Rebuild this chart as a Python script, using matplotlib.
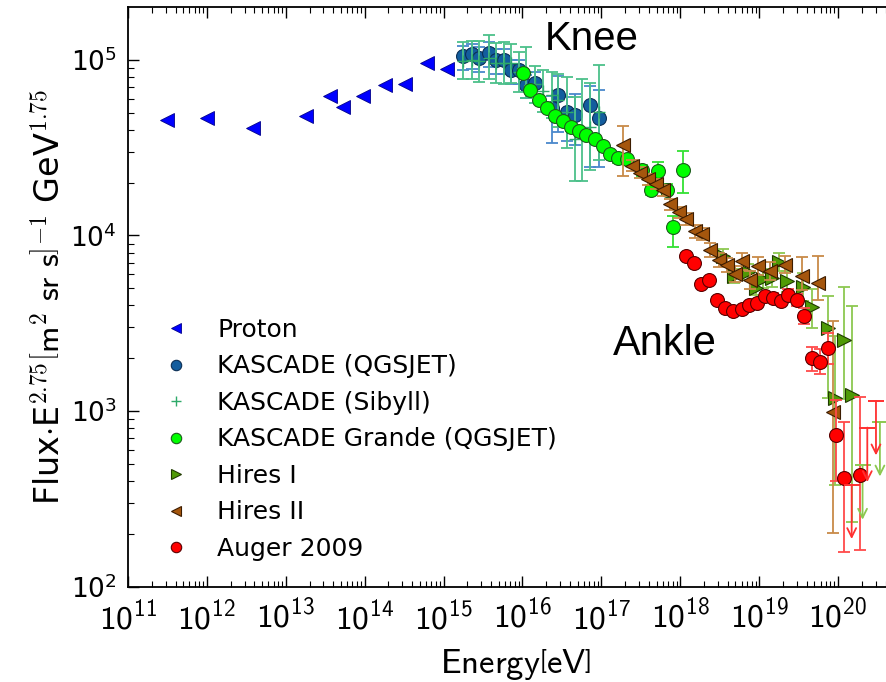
import numpy as np
import matplotlib
matplotlib.use("Agg")
import matplotlib.pyplot as plt
from matplotlib.ticker import LogLocator, NullFormatter, FixedLocator, FixedFormatter

# Sans-serif Computer Modern for the energy axis text
plt.rcParams["mathtext.rm"] = "cmss10"
plt.rcParams["mathtext.sf"] = "cmss10"
plt.rcParams["mathtext.it"] = "cmss10"

# ---------------------------------------------------------------------------
# Data: energies as log10(E / eV), flux as Flux * E^2.75, errors in dex
# ---------------------------------------------------------------------------
proton_loge = [11.49, 12.00, 12.58, 13.26, 13.56, 13.72, 13.98, 14.26, 14.51, 14.79, 15.04]
proton_flux = [4.52e4, 4.66e4, 4.08e4, 4.76e4, 6.2e4, 5.4e4, 6.2e4, 7.2e4, 7.3e4, 9.6e4, 8.9e4]

kq_loge = [15.24, 15.36, 15.45, 15.57, 15.66, 15.76, 15.85, 15.95, 16.05, 16.16,
           16.37, 16.45, 16.56, 16.67, 16.86, 16.97]
kq_logf = [5.02, 5.03, 5.01, 5.04, 5.00, 5.00, 4.94, 4.94, 4.855, 4.87,
           4.726, 4.80, 4.70, 4.685, 4.74, 4.67]
kq_dlo = [0.08, 0.08, 0.08, 0.08, 0.08, 0.08, 0.08, 0.08, 0.07, 0.07,
          0.20, 0.21, 0.16, 0.17, 0.35, 0.28]
kq_dhi = [0.06, 0.06, 0.06, 0.06, 0.06, 0.06, 0.06, 0.06, 0.06, 0.06,
          0.07, 0.11, 0.09, 0.12, 0.11, 0.16]

ks_loge = [15.24, 15.36, 15.45, 15.57, 15.66, 15.76, 15.85, 15.95, 16.05, 16.16,
           16.26, 16.37, 16.45, 16.56, 16.67, 16.76, 16.86, 16.97]
ks_logf = [4.995, 5.00, 4.99, 5.01, 4.98, 4.98, 4.98, 4.93, 4.93, 4.86,
           4.82, 4.80, 4.77, 4.70, 4.55, 4.60, 4.62, 4.70]
ks_dlo = [0.107, 0.107, 0.115, 0.12, 0.115, 0.12, 0.11, 0.115, 0.145, 0.105,
          0.12, 0.13, 0.15, 0.20, 0.24, 0.29, 0.25, 0.27]
ks_dhi = [0.107, 0.107, 0.115, 0.13, 0.115, 0.12, 0.11, 0.115, 0.145, 0.105,
          0.12, 0.13, 0.15, 0.20, 0.24, 0.29, 0.25, 0.27]

kg_loge = [16.01, 16.10, 16.21, 16.31, 16.41, 16.51, 16.62, 16.72, 16.81, 16.92,
           17.02, 17.11, 17.21, 17.32, 17.51, 17.63, 17.72, 17.83, 17.91, 18.03]
kg_logf = [4.926, 4.830, 4.773, 4.726, 4.678, 4.650, 4.615, 4.596, 4.574, 4.551,
           4.511, 4.463, 4.440, 4.434, 4.371, 4.259, 4.367, 4.261, 4.051, 4.375]
kg_dlo = [0.02, 0.02, 0.02, 0.02, 0.02, 0.02, 0.02, 0.02, 0.02, 0.02,
          0.02, 0.02, 0.025, 0.025, 0.03, 0.03, 0.06, 0.03, 0.114, 0.135]
kg_dhi = [0.02, 0.02, 0.02, 0.02, 0.02, 0.02, 0.02, 0.02, 0.02, 0.02,
          0.02, 0.02, 0.025, 0.025, 0.03, 0.03, 0.05, 0.03, 0.058, 0.107]

h1_loge = [18.545, 18.68, 18.862, 18.96, 19.052, 19.159, 19.251, 19.348, 19.555,
           19.665, 19.876, 19.967, 20.071, 20.172]
h1_logf = [3.884, 3.771, 3.793, 3.704, 3.754, 3.758, 3.849, 3.739, 3.709,
           3.593, 3.475, 3.078, 3.407, 3.091]
h1_dlo = [0.04, 0.04, 0.045, 0.045, 0.05, 0.05, 0.05, 0.06, 0.08,
          0.12, 0.40, 0.50, 0.34, 0.72]
h1_dhi = [0.04, 0.04, 0.045, 0.045, 0.05, 0.05, 0.05, 0.06, 0.08,
          0.10, 0.18, 0.35, 0.30, 0.51]
h1_lim_loge = [20.31, 20.53]
h1_lim_logf = [2.693, 2.939]

h2_loge = [17.278, 17.382, 17.483, 17.588, 17.686, 17.785, 17.870, 17.981, 18.076,
           18.186, 18.275, 18.380, 18.488, 18.588, 18.696, 18.788, 18.883, 18.982,
           19.141, 19.333, 19.539, 19.749, 19.932]
h2_logf = [4.516, 4.397, 4.357, 4.320, 4.294, 4.256, 4.177, 4.131, 4.095,
           4.023, 4.009, 3.920, 3.859, 3.830, 3.783, 3.853, 3.747, 3.826,
           3.799, 3.834, 3.770, 3.731, 2.995]
h2_dlo = [0.18, 0.03, 0.03, 0.03, 0.03, 0.03, 0.03, 0.03, 0.035,
          0.035, 0.035, 0.04, 0.04, 0.04, 0.045, 0.05, 0.05, 0.05,
          0.05, 0.05, 0.08, 0.10, 0.69]
h2_dhi = [0.105, 0.03, 0.03, 0.03, 0.03, 0.03, 0.03, 0.03, 0.035,
          0.035, 0.035, 0.04, 0.04, 0.04, 0.045, 0.05, 0.05, 0.05,
          0.05, 0.05, 0.11, 0.15, 0.52]

au_loge = [18.07, 18.17, 18.26, 18.37, 18.47, 18.57, 18.67, 18.78, 18.875, 18.97,
           19.07, 19.17, 19.27, 19.37, 19.475, 19.57, 19.665, 19.77, 19.875, 19.97,
           20.075, 20.28]
au_logf = [3.884, 3.843, 3.726, 3.745, 3.634, 3.587, 3.571, 3.581, 3.602, 3.617,
           3.654, 3.646, 3.630, 3.663, 3.634, 3.541, 3.301, 3.282, 3.358, 2.863,
           2.621, 2.640]
au_dlo = [0.015, 0.015, 0.015, 0.015, 0.015, 0.015, 0.015, 0.015, 0.02, 0.02,
          0.02, 0.025, 0.025, 0.03, 0.035, 0.045, 0.07, 0.07, 0.09, 0.26,
          0.42, 0.43]
au_dhi = [0.015, 0.015, 0.015, 0.015, 0.015, 0.015, 0.015, 0.015, 0.02, 0.02,
          0.02, 0.025, 0.025, 0.03, 0.035, 0.045, 0.063, 0.07, 0.09, 0.20,
          0.32, 0.44]
au_lim_loge = [20.172, 20.37, 20.48]
au_lim_logf = [2.583, 2.907, 3.059]

x_tick_exps = list(range(11, 21))
y_tick_exps = [2, 3, 4, 5]

# ---------------------------------------------------------------------------
fig = plt.figure(figsize=(8.86, 6.82), dpi=100)
W, H = 886, 682
ax = fig.add_axes([128 / W, (H - 587) / H, (904 - 128) / W, (587 - 7) / H])
ax.set_xscale("log")
ax.set_yscale("log")
x_max_exp = 11 + (904 - 128) / 78.9
ax.set_xlim(1e11, 10 ** x_max_exp)
ax.set_ylim(1e2, 10 ** 5.3)


def series(loge, logf, dlo, dhi, marker, face, edge, ecolor, label, ms, z, mew=0.8):
    e = 10 ** np.asarray(loge)
    f = 10 ** np.asarray(logf)
    lo = f - f * 10 ** (-np.asarray(dlo))
    hi = f * 10 ** np.asarray(dhi) - f
    ax.errorbar(e, f, yerr=[lo, hi], fmt="none", ecolor=ecolor, elinewidth=1.3,
                capsize=4, capthick=1.3, zorder=z)
    ax.plot(e, f, linestyle="none", marker=marker, markerfacecolor=face,
            markeredgecolor=edge, markeredgewidth=mew, markersize=ms, zorder=z + 0.5,
            color=face, label=label)


def limits(loge, logf, color):
    for le, lf in zip(loge, logf):
        e = 10 ** le
        f = 10 ** lf
        ax.plot([e], [f], marker="_", markersize=11, markeredgewidth=1.4,
                color=color, zorder=8)
        ax.annotate("", xy=(e, f * 10 ** -0.31), xytext=(e, f),
                    arrowprops=dict(arrowstyle="->", color=color, lw=1.3,
                                    shrinkA=0, shrinkB=0, mutation_scale=16),
                    zorder=8)


# Proton (direct measurements)
ax.plot(10 ** np.asarray(proton_loge), proton_flux, linestyle="none", marker="<",
        markerfacecolor="#0000ff", markeredgecolor="#00008b", markeredgewidth=0.6,
        markersize=10, color="#0000ff", label="Proton", zorder=3)

series(kq_loge, kq_logf, kq_dlo, kq_dhi, "o", "#135d9e", "#0b2f55", "#4a88cc",
       "KASCADE (QGSJET)", 10, 3)
# Sibyll markers drawn as crosses over the QGSJET points
e_s = 10 ** np.asarray(ks_loge)
f_s = 10 ** np.asarray(ks_logf)
ax.errorbar(e_s, f_s,
            yerr=[f_s - f_s * 10 ** (-np.asarray(ks_dlo)), f_s * 10 ** np.asarray(ks_dhi) - f_s],
            fmt="none", ecolor="#4cc08a", elinewidth=1.3, capsize=4, capthick=1.3, zorder=4)
ax.plot(e_s, f_s, linestyle="none", marker="+", color="#2eaa6a", markersize=9,
        markeredgewidth=1.0, label="KASCADE (Sibyll)", zorder=4.5)

series(kg_loge, kg_logf, kg_dlo, kg_dhi, "o", "#00ff00", "#1c5c1c", "#33e033",
       "KASCADE Grande (QGSJET)", 10, 5)
series(h1_loge, h1_logf, h1_dlo, h1_dhi, ">", "#4f9a06", "#1f3a00", "#8cc850",
       "Hires I", 10, 6)
limits(h1_lim_loge, h1_lim_logf, "#8cc850")
series(h2_loge, h2_logf, h2_dlo, h2_dhi, "<", "#a5560d", "#3c1c00", "#c88a48",
       "Hires II", 10, 6.8)
series(au_loge, au_logf, au_dlo, au_dhi, "o", "#ff0000", "#5a0000", "#ff4a4a",
       "Auger 2009", 10, 7.5)
limits(au_lim_loge, au_lim_logf, "#ff3030")

# Annotations
ax.text(10 ** 16.88, 10 ** 5.12, "Knee", fontsize=29, family="Liberation Sans",
        ha="center", va="center", zorder=10)
ax.text(10 ** 17.81, 10 ** 3.385, "Ankle", fontsize=30, family="Liberation Sans",
        ha="center", va="center", zorder=10)

# Axes styling
ax.xaxis.set_major_locator(FixedLocator([10.0 ** k for k in x_tick_exps]))
ax.xaxis.set_major_formatter(NullFormatter())
ax.xaxis.set_minor_locator(LogLocator(base=10, subs=np.arange(2, 10), numticks=30))
ax.xaxis.set_minor_formatter(NullFormatter())
ax.yaxis.set_major_locator(FixedLocator([10.0 ** k for k in y_tick_exps]))
ax.yaxis.set_major_formatter(FixedFormatter([r"$10^{%d}$" % k for k in y_tick_exps]))
ax.yaxis.set_minor_locator(LogLocator(base=10, subs=np.arange(2, 10), numticks=30))
ax.yaxis.set_minor_formatter(NullFormatter())
ax.tick_params(which="both", direction="in", top=True, right=True)
ax.tick_params(which="major", length=8, width=1.0)
ax.tick_params(which="minor", length=4, width=0.8)
ax.tick_params(axis="y", labelsize=19, pad=8)
for sp in ax.spines.values():
    sp.set_linewidth(1.3)

for k in x_tick_exps:
    ax.text(10.0 ** k, -0.022, r"$10^{%d}$" % k, transform=ax.get_xaxis_transform(),
            ha="center", va="top", fontsize=24, math_fontfamily="custom")

ax.set_xlabel(r"$\mathrm{Energy}\left[\mathrm{eV}\right]$", fontsize=25,
              math_fontfamily="custom", labelpad=40)
ax.set_ylabel(r"Flux$\cdot$E$^{2.75}\left[\mathsf{m}^2\ \mathsf{sr}\ \mathsf{s}\right]^{-1}$ GeV$^{1.75}$",
              fontsize=24, math_fontfamily="cm", labelpad=2)

leg = ax.legend(loc="upper left", bbox_to_anchor=(0.017, 0.503), frameon=False,
                fontsize=18, handlelength=1.0, handletextpad=1.14, markerscale=0.75,
                labelspacing=0.5, numpoints=1)

fig.savefig("out.png", dpi=100)
